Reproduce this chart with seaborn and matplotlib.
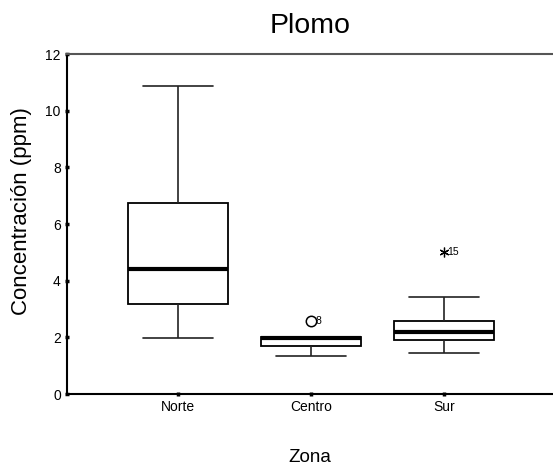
import matplotlib
matplotlib.use("Agg")
import matplotlib.pyplot as plt
import seaborn as sns
import pandas as pd

# ---- data ----
zones = ["Norte", "Centro", "Sur"]
norte_values = [1.99, 3.17, 4.41, 6.75, 10.88]
centro_values = [1.34, 1.50, 1.69, 1.85, 1.98, 2.00, 2.02, 2.02]
sur_values = [1.44, 1.70, 1.89, 2.05, 2.19, 2.40, 2.58, 3.43]
# outliers drawn separately (SPSS style: circle = outlier, star = extreme)
outlier_zones = ["Centro", "Sur"]
outlier_values = [2.58, 5.00]
outlier_labels = ["8", "15"]
outlier_markers = ["o", (6, 2, 0)]
y_ticks = [0, 2, 4, 6, 8, 10, 12]

rows = []
for z, vals in zip(zones, [norte_values, centro_values, sur_values]):
    for v in vals:
        rows.append({"Zona": z, "Valor": v})
for z, v in zip(outlier_zones, outlier_values):
    rows.append({"Zona": z, "Valor": v})
df = pd.DataFrame(rows)

sns.set_theme(style="white")
plt.rcParams["font.family"] = ["Liberation Sans", "DejaVu Sans"]
plt.rcParams.update({"text.color": "black", "axes.labelcolor": "black",
                     "xtick.color": "black", "ytick.color": "black"})

fig = plt.figure(figsize=(5.53, 4.71), dpi=100)
ax = fig.add_axes([67 / 553, 77 / 471, 486 / 553, 340 / 471])

sns.boxplot(
    data=df, x="Zona", y="Valor", order=zones, ax=ax,
    width=0.75, whis=1.5, showfliers=False,
    color="white", linecolor="black", linewidth=1.2,
    boxprops=dict(facecolor="white", edgecolor="black", linewidth=1.3),
    medianprops=dict(color="black", linewidth=3),
    whiskerprops=dict(color="#222222", linewidth=1.2),
    capprops=dict(color="#222222", linewidth=1.2),
    capwidths=0.53,
)

for z, v, lab, m in zip(outlier_zones, outlier_values, outlier_labels, outlier_markers):
    xi = zones.index(z)
    is_circle = (m == "o")
    ax.plot([xi], [v], marker=m, markersize=7.5 if is_circle else 7,
            markerfacecolor="white", markeredgecolor="black",
            markeredgewidth=1.1 if is_circle else 0.9, linestyle="none", zorder=5)
    ax.text(xi + (0.035 if is_circle else 0.025), v, lab, fontsize=7.5,
            va="center", ha="left", zorder=6)

ax.set_xlim(-0.835, 2.82)
ax.set_ylim(0, 12)
ax.set_yticks(y_ticks)
ax.set_yticklabels([str(t) for t in y_ticks])

ax.set_title("Plomo", fontsize=20.5, pad=15)
ax.set_ylabel("Concentración (ppm)", fontsize=16)
ax.yaxis.set_label_coords(-0.072, 0.538)
ax.set_xlabel("Zona", fontsize=13.5, labelpad=25)

for s in ["left", "bottom"]:
    ax.spines[s].set_color("black")
    ax.spines[s].set_linewidth(1.5)
ax.spines["top"].set_color("#555555")
ax.spines["top"].set_linewidth(1.5)
ax.spines["right"].set_visible(False)

ax.tick_params(axis="both", which="major", direction="inout", length=3,
               width=2.5, color="black", labelsize=10, pad=3,
               bottom=True, left=True)

fig.savefig("out.png", dpi=100, facecolor="white")
